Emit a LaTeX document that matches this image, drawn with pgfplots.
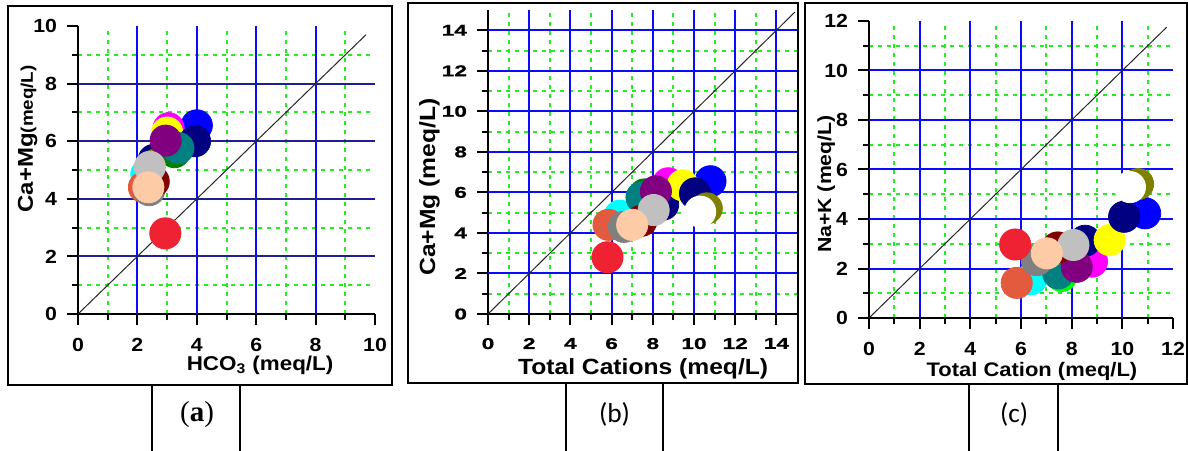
\documentclass[border=0pt]{standalone}
\usepackage{pgfplots}
\pgfplotsset{compat=1.18}
\usepackage{fontspec}
\setmainfont{Liberation Sans}
\newfontfamily\lab[FakeStretch=1.12]{Liberation Sans}
\newfontfamily\labw[FakeStretch=1.45,FakeBold=1]{Liberation Sans}
\newfontfamily\capserif{Liberation Serif}
\newfontfamily\capsans{Carlito}

\definecolor{cBlue}{HTML}{0000FF}
\definecolor{cMag}{HTML}{FF00FF}
\definecolor{cNavy}{HTML}{000080}
\definecolor{cYel}{HTML}{FFFF00}
\definecolor{cOlive}{HTML}{808000}
\definecolor{cCyan}{HTML}{00FFFF}
\definecolor{cGreen}{HTML}{008000}
\definecolor{cLime}{HTML}{00FF00}
\definecolor{cTeal}{HTML}{008080}
\definecolor{cPurple}{HTML}{800080}
\definecolor{cTomato}{HTML}{E35B3F}
\definecolor{cGray}{HTML}{808080}
\definecolor{cMaroon}{HTML}{800000}
\definecolor{cSilver}{HTML}{C0C0C0}
\definecolor{cPeach}{HTML}{FDCBA6}
\definecolor{cRed}{HTML}{EE2233}
\definecolor{gridBlue}{HTML}{0A0AFF}
\definecolor{gridNavy}{HTML}{1F1F8F}
\definecolor{gridGreen}{HTML}{22EE22}

\pgfplotsset{
  panel/.style={
    scale only axis, anchor=south west,
    axis x line*=bottom, axis y line*=left,
    tick align=outside, major tick length=5.5pt, minor tick length=3pt,
    minor tick num=1,
    xmajorgrids=false, ymajorgrids=false, xminorgrids, yminorgrids,
    minor grid style={gridGreen, line width=1pt, dash pattern=on 2pt off 2.5pt},
    axis line style={black, line width=1pt},
    every tick/.style={black, line width=1pt},
    /pgf/number format/assume math mode=true,
    xticklabel style={yshift=-3pt},
    yticklabel style={xshift=-1.5pt},
  },
  vgrid/.style={ycomb, no marks, gridBlue, line width=1pt, forget plot},
  hgrid/.style={xcomb, no marks, #1, line width=1pt, forget plot},
  pts/.style={
    scatter, only marks, mark=*, mark size=7.8pt,
    scatter src=explicit symbolic,
    scatter/classes={
      bl={draw=cBlue,fill=cBlue},
      mg={draw=cMag,fill=cMag},
      nv={draw=cNavy,fill=cNavy},
      ye={draw=cYel,fill=cYel},
      ol={draw=cOlive,fill=cOlive},
      wh={draw=white,fill=white},
      cy={draw=cCyan,fill=cCyan},
      gr={draw=cGreen,fill=cGreen},
      li={draw=cLime,fill=cLime},
      te={draw=cTeal,fill=cTeal},
      pu={draw=cPurple,fill=cPurple},
      to={draw=cTomato,fill=cTomato},
      ga={draw=cGray,fill=cGray},
      ma={draw=cMaroon,fill=cMaroon},
      si={draw=cSilver,fill=cSilver},
      pe={draw=cPeach,fill=cPeach},
      re={draw=cRed,fill=cRed}
    }
  }
}

\begin{document}
\begin{tikzpicture}
\path[use as bounding box] (0pt,0pt) rectangle (594pt,225pt);

% ---------------- (a) ----------------
\begin{axis}[panel,
  at={(39pt,68pt)}, width=148.5pt, height=144pt,
  xmin=0, xmax=10, ymin=0, ymax=10,
  xtick={0,2,...,10}, ytick={0,2,...,10},
  ticklabel style={font=\lab\bfseries\fontsize{9.5}{10}\selectfont},
  every axis x label/.style={at={([yshift=-28pt]axis description cs:0.613,0)}, anchor=base},
  every axis y label/.style={at={([xshift=-22.5pt]axis description cs:0,0.608)}, rotate=90, anchor=base},
  xlabel={\lab\bfseries\fontsize{10}{12}\selectfont HCO\textsubscript{3} (meq/L)},
  ylabel={\lab\bfseries{\fontsize{10.7}{12}\selectfont Ca+Mg}{\fontsize{8.4}{10}\selectfont(meq/L)}},
]
\addplot[vgrid] coordinates {(2,10) (4,10) (6,10) (8,10)};
\addplot[hgrid=gridNavy] coordinates {(10,2) (10,4) (10,6) (10,8)};
\addplot[pts] table[x=x,y=y,meta=c] {
x y c
4.00 6.55 bl
3.05 6.45 mg
2.55 5.35 nv
3.00 6.30 ye
3.94 6.00 nv
2.65 5.20 ol
2.75 5.05 wh
2.30 4.85 cy
3.25 5.62 gr
3.38 5.76 te
2.95 6.02 pu
2.22 4.40 to
2.40 4.30 ga
2.55 4.60 ma
2.42 5.11 si
2.37 4.40 pe
2.94 2.80 re
};
\addplot[black!85, line width=0.5pt] coordinates {(0,0) (9.7,9.7)};
\end{axis}

% ---------------- (b) ----------------
\begin{axis}[panel,
  at={(244pt,68pt)}, width=154.5pt, height=152pt,
  xmin=0, xmax=15, ymin=0, ymax=15,
  xtick={0,2,...,14}, ytick={0,2,...,14},
  ticklabel style={font=\labw\bfseries\fontsize{7.8}{9}\selectfont},
  every axis x label/.style={at={([yshift=-30pt]axis description cs:0.502,0)}, anchor=base},
  every axis y label/.style={at={([xshift=-26.5pt]axis description cs:0,0.418)}, rotate=90, anchor=base},
  xlabel={\lab\bfseries\fontsize{11}{13}\selectfont Total Cations (meq/L)},
  ylabel={\lab\bfseries\fontsize{11}{13}\selectfont Ca+Mg (meq/L)},
]
\addplot[vgrid] coordinates {(2,15) (4,15) (6,15) (8,15) (10,15) (12,15) (14,15)};
\addplot[hgrid=gridBlue] coordinates {(15,2) (15,4) (15,6) (15,8) (15,10) (15,12) (15,14)};
\addplot[pts] table[x=x,y=y,meta=c] {
x y c
10.80 6.55 bl
8.75 6.45 mg
8.50 5.40 nv
9.45 6.35 ye
10.05 5.95 nv
10.62 5.21 ol
10.30 5.05 wh
6.40 4.85 cy
7.60 5.90 gr
7.45 5.75 te
8.15 6.05 pu
5.85 4.40 to
6.60 4.30 ga
7.45 4.60 ma
8.04 5.13 si
7.00 4.40 pe
5.80 2.80 re
};
\addplot[black!85, line width=0.5pt] coordinates {(0,0) (14.9,14.9)};
\end{axis}

% ---------------- (c) ----------------
\begin{axis}[panel,
  at={(434.5pt,66pt)}, width=152pt, height=148.5pt,
  xmin=0, xmax=12, ymin=0, ymax=12,
  xtick={0,2,...,12}, ytick={0,2,...,12},
  ticklabel style={font=\lab\bfseries\fontsize{9.5}{10}\selectfont},
  every axis x label/.style={at={([yshift=-29.3pt]axis description cs:0.536,0)}, anchor=base},
  every axis y label/.style={at={([xshift=-19pt]axis description cs:0,0.451)}, rotate=90, anchor=base},
  xlabel={\lab\bfseries\fontsize{9.8}{12}\selectfont Total Cation (meq/L)},
  ylabel={\lab\bfseries\fontsize{9.5}{12}\selectfont Na+K (meq/L)},
]
\addplot[vgrid] coordinates {(2,12) (4,12) (6,12) (8,12) (10,12)};
\addplot[hgrid=gridBlue] coordinates {(12,2) (12,4) (12,6) (12,8) (12,10)};
\addplot[pts] table[x=x,y=y,meta=c] {
x y c
10.90 4.23 bl
8.80 2.28 mg
8.53 3.12 nv
9.50 3.15 ye
10.07 4.09 nv
10.62 5.41 ol
10.30 5.29 wh
6.40 1.57 cy
7.60 1.70 li
7.47 1.80 te
8.20 2.07 pu
5.83 1.42 to
6.62 2.34 ga
7.45 2.85 ma
8.07 2.95 si
7.02 2.61 pe
5.77 2.97 re
};
\addplot[black!85, line width=0.5pt] coordinates {(0,0) (11.75,11.75)};
\end{axis}

% frames
\draw[line width=1pt] (4pt,32.5pt) rectangle (196pt,222pt);
\draw[line width=1pt] (204pt,33.5pt) rectangle (399pt,223.5pt);
\draw[line width=1pt] (402.5pt,33pt) rectangle (593.5pt,223.5pt);
% caption boxes
\draw[line width=0.7pt] (76pt,-1pt) -- (76pt,32.5pt) -- (120pt,32.5pt) -- (120pt,-1pt);
\draw[line width=0.7pt] (283pt,-1pt) -- (283pt,33.5pt) -- (331.5pt,33.5pt) -- (331.5pt,-1pt);
\draw[line width=0.7pt] (484.5pt,-1pt) -- (484.5pt,33pt) -- (529pt,33pt) -- (529pt,-1pt);
\node[anchor=base, inner sep=0pt] at (98.5pt,14.5pt) {\capserif\fontsize{14.5}{16}\selectfont (\textbf{a})};
\node[anchor=base, inner sep=0pt] at (307.25pt,14pt) {\capsans\fontsize{13.7}{16}\selectfont (b)};
\node[anchor=base, inner sep=0pt] at (507pt,14pt) {\capsans\fontsize{13.6}{16}\selectfont (c)};
\end{tikzpicture}
\end{document}
